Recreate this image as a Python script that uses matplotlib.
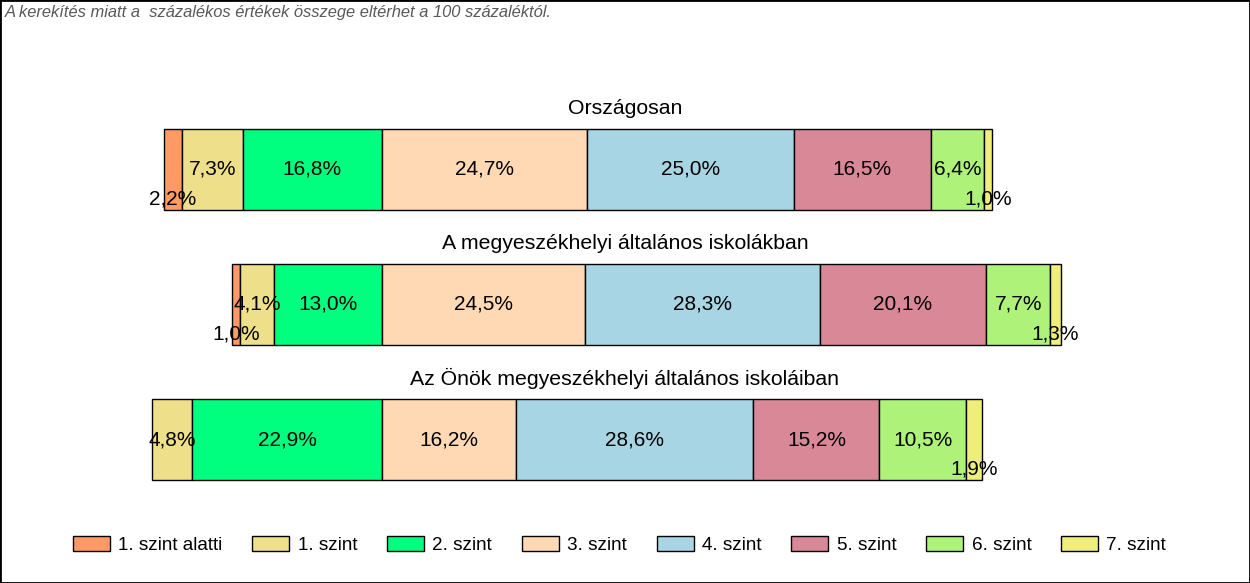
import matplotlib
matplotlib.use("Agg")
import matplotlib.pyplot as plt
from matplotlib.patches import Patch, Rectangle

plt.rcParams['font.family'] = ['Liberation Sans', 'DejaVu Sans']

categories = ["Országosan",
              "A megyeszékhelyi általános iskolákban",
              "Az Önök megyeszékhelyi általános iskoláiban"]
levels = ["1. szint alatti", "1. szint", "2. szint", "3. szint",
          "4. szint", "5. szint", "6. szint", "7. szint"]
orszagosan = [2.2, 7.3, 16.8, 24.7, 25.0, 16.5, 6.4, 1.0]
megyeszekhelyi = [1.0, 4.1, 13.0, 24.5, 28.3, 20.1, 7.7, 1.3]
onok = [0.0, 4.8, 22.9, 16.2, 28.6, 15.2, 10.5, 1.9]
series = [orszagosan, megyeszekhelyi, onok]
colors = ["#FF9966", "#EEE08A", "#00FF7F", "#FFD9B3",
          "#A8D5E3", "#D98898", "#AEF27A", "#F0EE7A"]
note = "A kerekítés miatt a  százalékos értékek összege eltérhet a 100 százaléktól."

W, H = 1250, 583
fig = plt.figure(figsize=(W / 100, H / 100), dpi=100)
ax = fig.add_axes([0, 0, 1, 1])
ax.axis('off')

# anchor: boundary between "2. szint" and "3. szint" at pixel x=382
px_per = 8.29
anchor_px = 382
ax.set_xlim((0 - anchor_px) / px_per, (W - anchor_px) / px_per)
row_px0, row_step = 169.5, 135.0
ax.set_ylim((H - row_px0) / row_step, (0 - row_px0) / row_step)

bar_h = 0.6
for i, (cat, vals) in enumerate(zip(categories, series)):
    left = -sum(vals[:3])
    for j, v in enumerate(vals):
        if v > 0:
            ax.barh(i, v, left=left, height=bar_h, color=colors[j],
                    edgecolor='black', linewidth=1.0)
            ty = i + (0.215 if v < 3 else 0)
            ax.text(left + v / 2, ty, f"{v:.1f}%".replace('.', ','),
                    ha='center', va='center', fontsize=15, color='black')
        left += v
    ax.text(0.5, i - bar_h / 2 - 0.15, cat, transform=ax.get_yaxis_transform(),
            ha='center', va='center', fontsize=15.3)

fig.text(5 / W, 1 - 13 / H, note, ha='left', va='center', fontsize=11.9,
         style='italic', color='#595959')

handles = [Patch(facecolor=c, edgecolor='black', linewidth=1.0) for c in colors]
fig.legend(handles, levels, loc='center', bbox_to_anchor=(619.5 / W, 1 - 545 / H),
           ncol=8, frameon=False, fontsize=13.6, handlelength=1.95, handleheight=0.85,
           handletextpad=0.45, columnspacing=1.58)

fig.patches.append(Rectangle((0, 0), 1, 1, transform=fig.transFigure,
                             fill=False, edgecolor='black', linewidth=2.0))

fig.savefig("out.png", dpi=100)
